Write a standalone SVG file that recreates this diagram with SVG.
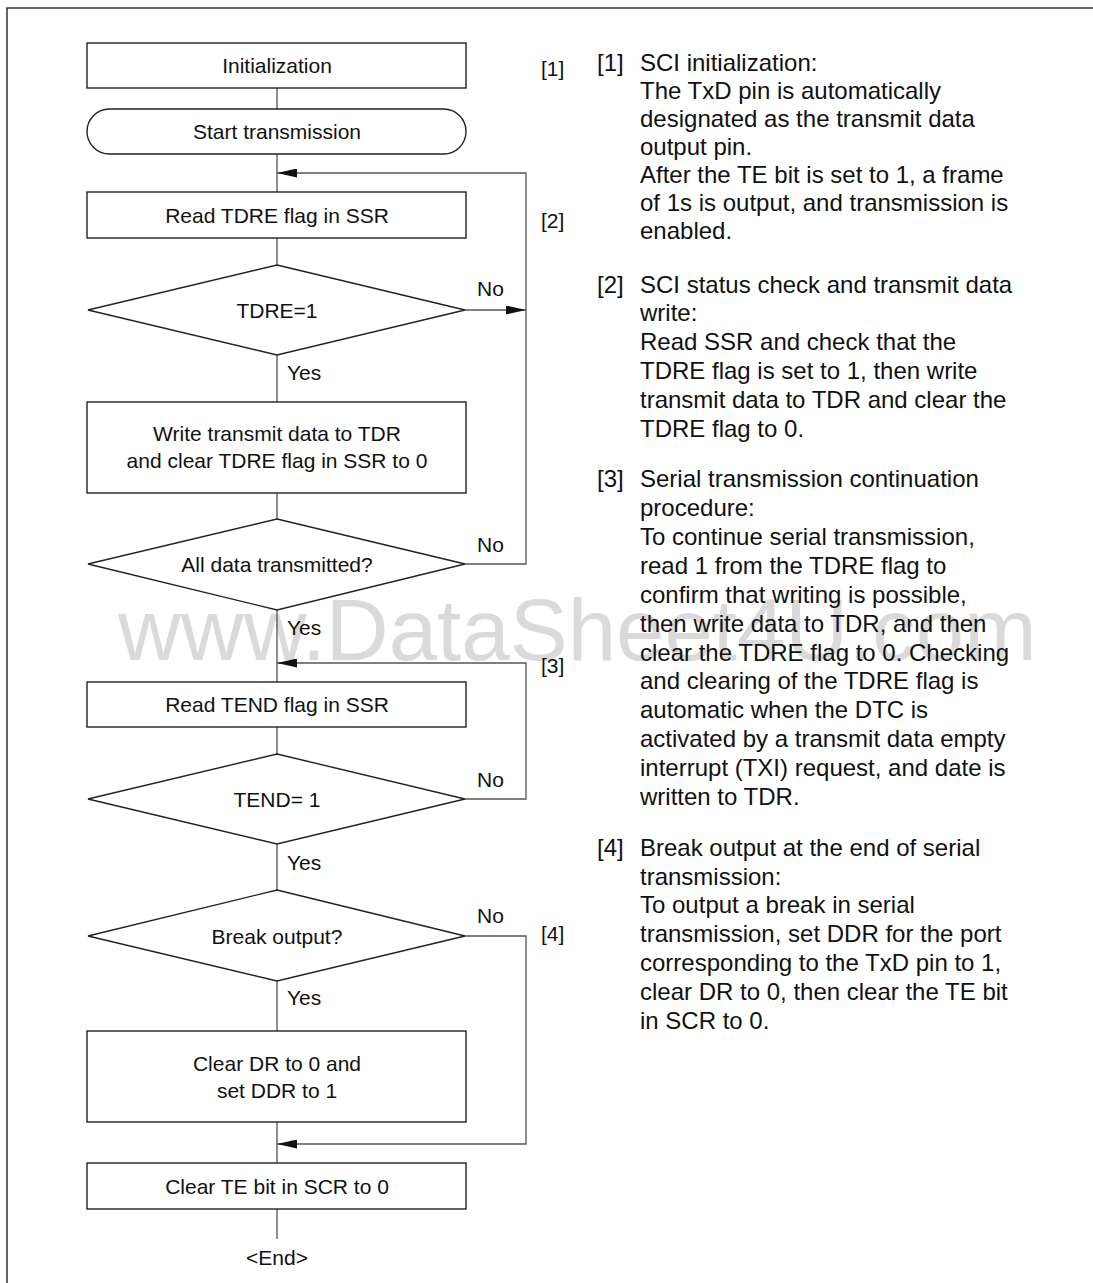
<svg xmlns="http://www.w3.org/2000/svg" width="1093" height="1283" viewBox="0 0 1093 1283">
<defs>
<style>
.box{fill:#fff;stroke:#222;stroke-width:1.4}
.conn{fill:none;stroke:#555;stroke-width:1.3}
.t{font-family:"Liberation Sans",Arial,sans-serif;font-size:21px;fill:#111}
.c{text-anchor:middle}
.d{font-family:"Liberation Sans",Arial,sans-serif;font-size:24px;fill:#111}
.wm{font-family:"Liberation Sans",Arial,sans-serif;font-size:87px;fill:#dadada}
</style>
<marker id="ah" viewBox="0 0 20 9" refX="20" refY="4.5" markerWidth="20" markerHeight="9" markerUnits="userSpaceOnUse" orient="auto">
<path d="M0,0 L20,4.5 L0,9 z" fill="#111"/>
</marker>
</defs>
<rect x="0" y="0" width="1093" height="1283" fill="#fff"/>
<path d="M7,1283 V8 H1093" fill="none" stroke="#333" stroke-width="1.5"/>
<text class="wm" x="118" y="660">www.DataSheet4U.com</text>

<g id="connectors">
<path class="conn" d="M277,88 V109 M277,154 V192 M277,238 V265 M277,355 V402 M277,493 V519 M277,610 V682 M277,727 V754 M277,844 V890 M277,981 V1031 M277,1122 V1163 M277,1209 V1239"/>
<path class="conn" d="M465,310 H526" marker-end="url(#ah)"/>
<path class="conn" d="M465,564 H526 V173 H277" marker-end="url(#ah)"/>
<path class="conn" d="M465,799 H526 V663 H277" marker-end="url(#ah)"/>
<path class="conn" d="M465,936 H526 V1144 H277" marker-end="url(#ah)"/>
<text class="t" x="287" y="379.5">Yes</text>
<text class="t" x="477" y="295.5">No</text>
<text class="t" x="477" y="551.5">No</text>
<text class="t" x="287" y="634.5">Yes</text>
<text class="t" x="477" y="786.5">No</text>
<text class="t" x="287" y="869.5">Yes</text>
<text class="t" x="477" y="922.5">No</text>
<text class="t" x="287" y="1004.5">Yes</text>
</g>

<g id="init">
<rect class="box" x="87" y="43" width="379" height="45"/>
<text class="t c" x="277" y="72.5">Initialization</text>
</g>
<g id="start">
<rect class="box" x="87" y="109" width="379" height="45" rx="22.5" ry="22.5"/>
<text class="t c" x="277" y="138.5">Start transmission</text>
</g>
<g id="readTDRE">
<rect class="box" x="87" y="192" width="379" height="46"/>
<text class="t c" x="277" y="222.5">Read TDRE flag in SSR</text>
</g>
<g id="tdre1">
<polygon class="box" points="277,265 465,310 277,355 88,310"/>
<text class="t c" x="277" y="317.5">TDRE=1</text>
</g>
<g id="writeTDR">
<rect class="box" x="87" y="402" width="379" height="91"/>
<text class="t c" x="277" y="440.5">Write transmit data to TDR</text>
<text class="t c" x="277" y="467.5">and clear TDRE flag in SSR to 0</text>
</g>
<g id="allData">
<polygon class="box" points="277,519 465,564 277,610 88,564"/>
<text class="t c" x="277" y="571.5">All data transmitted?</text>
</g>
<g id="readTEND">
<rect class="box" x="87" y="682" width="379" height="45"/>
<text class="t c" x="277" y="711.5">Read TEND flag in SSR</text>
</g>
<g id="tend1">
<polygon class="box" points="277,754 465,799 277,844 88,799"/>
<text class="t c" x="277" y="806.5">TEND= 1</text>
</g>
<g id="breakOut">
<polygon class="box" points="277,890 465,936 277,981 88,936"/>
<text class="t c" x="277" y="943.5">Break output?</text>
</g>
<g id="clearDR">
<rect class="box" x="87" y="1031" width="379" height="91"/>
<text class="t c" x="277" y="1070.5">Clear DR to 0 and</text>
<text class="t c" x="277" y="1097.5">set DDR to 1</text>
</g>
<g id="clearTE">
<rect class="box" x="87" y="1163" width="379" height="46"/>
<text class="t c" x="277" y="1193.5">Clear TE bit in SCR to 0</text>
</g>
<g id="end">
<text class="t c" x="277" y="1264.5">&lt;End&gt;</text>
</g>

<g id="stepLabels">
<text class="t" x="541" y="75.5">[1]</text>
<text class="t" x="541" y="227.5">[2]</text>
<text class="t" x="541" y="672.5">[3]</text>
<text class="t" x="541" y="941">[4]</text>
</g>

<g id="notes">
<text class="d" x="597" y="70.6">[1]</text>
<text class="d" x="640" y="70.6">SCI initialization:</text>
<text class="d" x="640" y="98.6">The TxD pin is automatically</text>
<text class="d" x="640" y="126.6">designated as the transmit data</text>
<text class="d" x="640" y="154.6">output pin.</text>
<text class="d" x="640" y="182.6">After the TE bit is set to 1, a frame</text>
<text class="d" x="640" y="210.6">of 1s is output, and transmission is</text>
<text class="d" x="640" y="238.6">enabled.</text>

<text class="d" x="597" y="292.6">[2]</text>
<text class="d" x="640" y="292.6">SCI status check and transmit data</text>
<text class="d" x="640" y="321.4">write:</text>
<text class="d" x="640" y="350.2">Read SSR and check that the</text>
<text class="d" x="640" y="379">TDRE flag is set to 1, then write</text>
<text class="d" x="640" y="407.8">transmit data to TDR and clear the</text>
<text class="d" x="640" y="436.6">TDRE flag to 0.</text>

<text class="d" x="597" y="487.1">[3]</text>
<text class="d" x="640" y="487.1">Serial transmission continuation</text>
<text class="d" x="640" y="516">procedure:</text>
<text class="d" x="640" y="544.9">To continue serial transmission,</text>
<text class="d" x="640" y="573.8">read 1 from the TDRE flag to</text>
<text class="d" x="640" y="602.7">confirm that writing is possible,</text>
<text class="d" x="640" y="631.6">then write data to TDR, and then</text>
<text class="d" x="640" y="660.5">clear the TDRE flag to 0. Checking</text>
<text class="d" x="640" y="689.4">and clearing of the TDRE flag is</text>
<text class="d" x="640" y="718.3">automatic when the DTC is</text>
<text class="d" x="640" y="747.2">activated by a transmit data empty</text>
<text class="d" x="640" y="776.1">interrupt (TXI) request, and date is</text>
<text class="d" x="640" y="805">written to TDR.</text>

<text class="d" x="597" y="855.6">[4]</text>
<text class="d" x="640" y="855.6">Break output at the end of serial</text>
<text class="d" x="640" y="884.5">transmission:</text>
<text class="d" x="640" y="913.4">To output a break in serial</text>
<text class="d" x="640" y="942.3">transmission, set DDR for the port</text>
<text class="d" x="640" y="971.2">corresponding to the TxD pin to 1,</text>
<text class="d" x="640" y="1000.1">clear DR to 0, then clear the TE bit</text>
<text class="d" x="640" y="1029">in SCR to 0.</text>
</g>
</svg>
